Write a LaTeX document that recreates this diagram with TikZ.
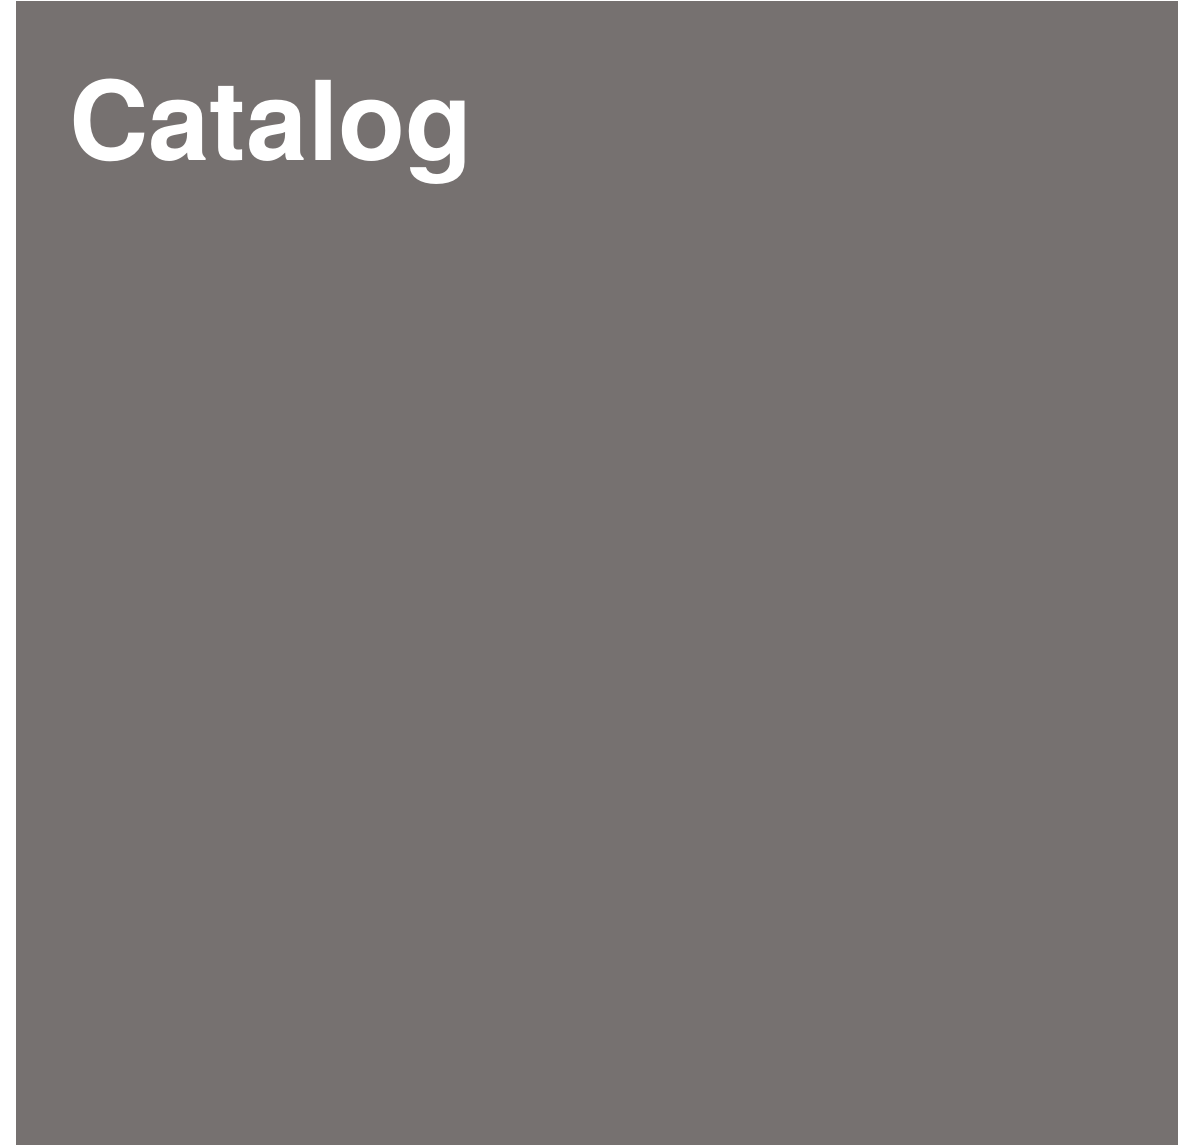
\documentclass[tikz,border=0pt]{standalone}
\usepackage{fontspec}
\setmainfont{TeX Gyre Heros}
\definecolor{panelgrey}{RGB}{118,113,112}
\tikzset{
  panel/.style={fill=panelgrey, draw=none},
  titletext/.style={text=white, inner sep=0pt, anchor=base west, font=\fontsize{110}{120}\selectfont\bfseries}
}
\begin{document}
\begin{tikzpicture}[x=1pt,y=-1pt]
\useasboundingbox (0,0) rectangle (1182,1145);
\fill[white] (0,0) rectangle (1182,1145);
\path[panel] (16,1) rectangle (1178,1145);
\node[titletext] (title) at (69,160) {Catalog};
\end{tikzpicture}
\end{document}
